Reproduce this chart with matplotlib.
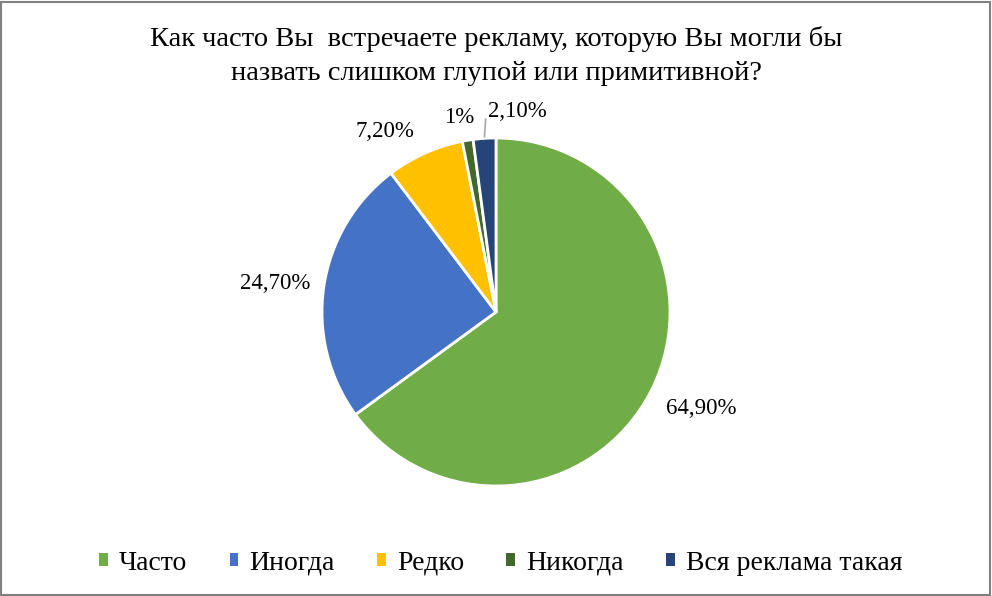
import matplotlib
matplotlib.use("Agg")
import numpy as np
import matplotlib.pyplot as plt
from matplotlib.patches import Rectangle, Patch

# data
categories = ["Часто", "Иногда", "Редко", "Никогда", "Вся реклама такая"]
values = [64.9, 24.7, 7.2, 1.0, 2.1]
labels = ["64,90%", "24,70%", "7,20%", "1%", "2,10%"]
colors = ["#70AD47", "#4472C4", "#FFC000", "#43682B", "#264478"]
title = "Как часто Вы  встречаете рекламу, которую Вы могли бы\nназвать слишком глупой или примитивной?"

# label placement: (radius, angle shift in degrees) relative to the wedge mid-angle
label_place = [(1.30, 1.8), (1.28, 0.9), (1.22, 7.5), (1.14, 1.3), (1.16, -10.0)]

W, H = 992, 596
CX, CY, R = 496, 312, 174
FONT = "Liberation Serif"

fig = plt.figure(figsize=(W / 100, H / 100), dpi=100)
ax = fig.add_axes([0, 0, 1, 1])

wedges, _ = ax.pie(values, colors=colors, startangle=90, counterclock=False,
                   radius=1.0, wedgeprops=dict(edgecolor="white", linewidth=2))
ax.set_xlim(-CX / R, (W - CX) / R)
ax.set_ylim(-(H - CY) / R, CY / R)
ax.set_aspect("equal")
ax.axis("off")

for w, lab, (r, shift) in zip(wedges, labels, label_place):
    mid = np.deg2rad((w.theta1 + w.theta2) / 2 + shift)
    ax.text(r * np.cos(mid), r * np.sin(mid), lab, ha="center", va="center",
            fontsize=16.5, family=FONT)

# leader line for the smallest labelled slice
w = wedges[4]
mid = np.deg2rad((w.theta1 + w.theta2) / 2)
ax.plot([1.01 * np.cos(mid), 1.05 * np.cos(mid) + 0.01],
        [1.01 * np.sin(mid), 1.11 * np.sin(mid)], color="#A6A6A6", lw=1.2)

for i, line in enumerate(title.split("\n")):
    fig.text(0.5, 1 - (46 + 34 * i) / H, line, ha="center", va="baseline",
             fontsize=20.5, family=FONT)

handles = [Patch(facecolor=c, edgecolor="none") for c in colors]
fig.legend(handles, categories, loc="center", bbox_to_anchor=(0.505, 1 - 563 / H),
           ncol=5, frameon=False, prop=dict(family=FONT, size=20),
           handlelength=0.32, handleheight=0.32, handletextpad=0.4,
           columnspacing=1.52)

fig.patches.append(Rectangle((0.001, 0.002), 0.997, 0.995, transform=fig.transFigure,
                             fill=False, edgecolor="#808080", linewidth=1.5))

fig.savefig("out.png", dpi=100)
